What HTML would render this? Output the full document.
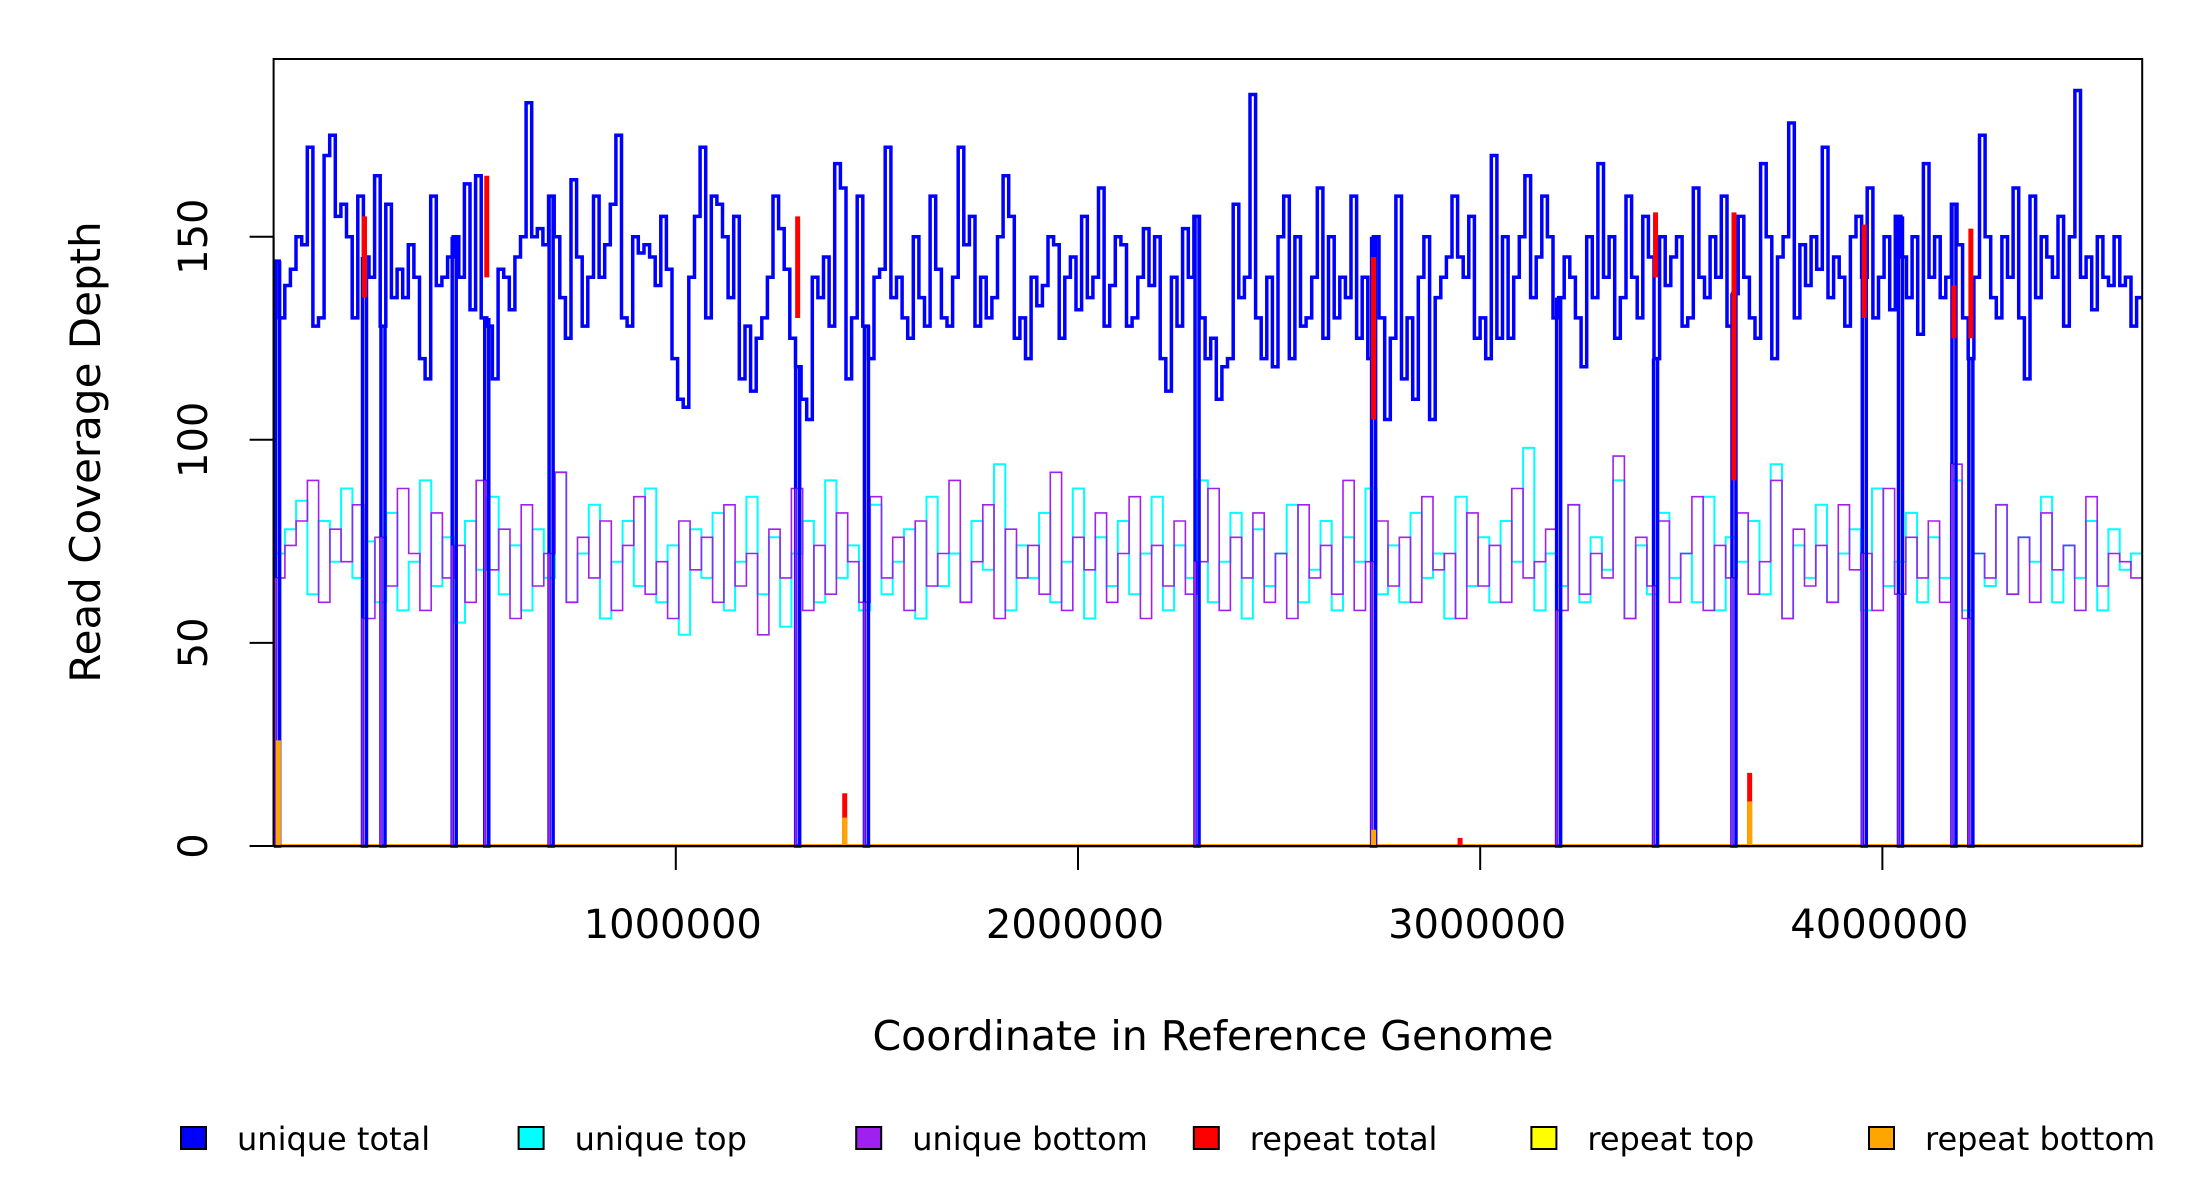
<!DOCTYPE html>
<html><head><meta charset="utf-8"><style>
html,body{margin:0;padding:0;background:#fff;}
svg{display:block;font-family:"DejaVu Sans","Liberation Sans",sans-serif;}
</style></head><body>
<svg id="chart" width="2200" height="1200" viewBox="0 0 2200 1200" xmlns="http://www.w3.org/2000/svg">
<g id="plot"></g>
<rect x="273.6" y="59" width="1868.6" height="787" fill="none" stroke="#000" stroke-width="2"/>
<g id="axes"></g>
<text x="0" y="0" transform="translate(100,452) rotate(-90)" text-anchor="middle" font-size="42">Read Coverage Depth</text>
<text x="1213" y="1050" text-anchor="middle" font-size="41">Coordinate in Reference Genome</text>
<g id="legend"></g>
</svg>
<script>
const xMax = 4646000;
const yMax = 193.75;
const xTicks = [1000000, 2000000, 3000000, 4000000];
const xTickLabels = ["1000000", "2000000", "3000000", "4000000"];
const yTicks = [0, 50, 100, 150];
const yTickLabels = ["0", "50", "100", "150"];
const uniqueTotal = [144,130,138,142,150,148,172,128,130,170,175,155,158,150,130,160,145,140,165,128,158,135,142,135,148,140,120,115,160,138,140,145,150,140,163,132,165,130,128,115,142,140,132,145,150,183,150,152,148,160,150,135,125,164,145,128,140,160,140,148,158,175,130,128,150,146,148,145,138,155,142,120,110,108,140,155,172,130,160,158,150,135,155,115,128,112,125,130,140,160,152,142,125,118,110,105,140,135,145,128,168,162,115,130,160,128,120,140,142,172,135,140,130,125,150,135,128,160,142,130,128,140,172,148,155,128,140,130,135,150,165,155,125,130,120,140,133,138,150,148,125,140,145,132,155,135,140,162,128,138,150,148,128,130,140,152,138,150,120,112,140,128,152,140,155,130,120,125,110,118,120,158,135,140,185,130,120,140,118,150,160,120,150,128,130,140,162,125,150,130,140,135,160,125,140,120,150,130,105,125,160,115,130,110,140,150,105,135,140,145,160,145,140,155,125,130,120,170,125,150,125,140,150,165,135,145,160,150,130,135,145,140,130,118,150,135,168,140,150,125,135,160,140,130,155,145,120,150,138,145,150,128,130,162,140,135,150,140,160,128,136,155,140,130,125,168,150,120,145,150,178,130,148,138,150,142,172,135,145,140,128,150,155,140,162,130,140,150,132,155,145,135,150,126,168,140,150,135,140,158,148,130,120,140,175,150,135,130,150,140,162,130,115,160,135,150,145,140,155,128,150,186,140,145,132,150,140,138,150,138,140,128,135];
const uniqueTop = [72,78,85,62,80,70,88,66,75,60,82,58,70,90,64,76,55,80,68,86,62,74,58,78,66,92,60,72,84,56,70,80,64,88,60,74,52,78,66,82,58,70,86,62,76,54,72,80,60,90,66,74,58,84,62,70,78,56,86,64,72,60,80,68,94,58,74,66,82,60,70,88,56,76,64,80,62,72,86,58,74,66,90,60,70,82,56,78,64,72,84,60,68,80,58,76,70,88,62,74,60,82,66,72,56,86,64,76,60,80,70,98,58,72,64,84,60,76,68,90,56,74,62,82,66,72,60,86,58,76,70,80,62,94,56,74,66,84,60,72,78,58,88,64,70,82,60,76,66,90,58,72,64,84,62,76,70,86,60,74,66,80,58,78,68,72];
const uniqueBottom = [66,74,80,90,60,78,70,84,56,76,64,88,72,58,82,66,74,60,90,68,78,56,84,64,72,92,60,76,66,80,58,74,86,62,70,56,80,68,76,60,84,64,72,52,78,66,88,58,74,62,82,70,60,86,66,76,58,80,64,72,90,60,70,84,56,78,66,74,62,92,58,76,68,82,60,72,86,56,74,64,80,62,70,88,58,76,66,82,60,72,56,84,66,74,62,90,58,70,80,64,76,60,86,68,72,56,82,64,74,60,88,66,70,78,58,84,62,72,66,96,56,76,64,80,60,72,86,58,74,66,82,62,70,90,56,78,64,74,60,84,68,72,58,88,62,76,66,80,60,94,56,72,66,84,62,76,60,82,68,74,58,86,64,72,70,66];
const dropPositions = [10000,226000,272000,449000,530000,690000,1303000,1474000,2296000,2735000,3195000,3436000,3631000,3955000,4045000,4178000,4220000];
const repeatPositions = [226000,530000,1303000,1420000,2735000,2950000,3436000,3631000,3670000,3955000,4178000,4220000];
const repeatLow = [135,140,130,0,105,0,140,90,0,130,125,125];
const repeatHigh = [155,165,155,13,145,2,156,156,18,153,138,152];
const repeatBottomPositions = [12000,1420000,3670000,2735000];
const repeatBottomValues = [26,7,11,4];
const legendLabels = ["unique total","unique top","unique bottom","repeat total","repeat top","repeat bottom"];
const legendColors = ["#0000ff","#00ffff","#a020f0","#ff0000","#ffff00","#ffa500"];

const X0 = 273.6, X1 = 2142.2, Y0 = 846, Y1 = 59;
const xs = v => X0 + (v / xMax) * (X1 - X0);
const ys = v => Y0 - (v / yMax) * (Y0 - Y1);
const NS = "http://www.w3.org/2000/svg";
const plot = document.getElementById('plot');
const axes = document.getElementById('axes');
const legend = document.getElementById('legend');
function mk(tag, attrs, parent){const e=document.createElementNS(NS,tag);for(const k in attrs)e.setAttribute(k,attrs[k]);parent.appendChild(e);return e;}

function stepPath(vals){
  const w = xMax / vals.length; let d = '';
  vals.forEach((v,i)=>{const a=xs(i*w), b=xs((i+1)*w), y=ys(v);
    d += (i===0?'M':'L')+a.toFixed(1)+','+y.toFixed(1)+'L'+b.toFixed(1)+','+y.toFixed(1);});
  return d;
}
function valAt(vals,pos){const i=Math.min(vals.length-1,Math.floor(pos/(xMax/vals.length)));return vals[i];}

let p = mk('line',{x1:X0,x2:X1,y1:ys(0),y2:ys(0),stroke:'#ffa500','stroke-width':4},plot);



p = mk('path',{d:stepPath(uniqueTop),fill:'none',stroke:'#00ffff','stroke-width':2},plot);


p = mk('path',{d:stepPath(uniqueBottom),fill:'none',stroke:'#a020f0','stroke-width':1.6},plot);


p = mk('path',{d:stepPath(uniqueTotal),fill:'none',stroke:'#0000ff','stroke-width':3.5},plot);



dropPositions.forEach(pos=>{
  const v = valAt(uniqueTotal,pos);
  let l = mk('path',{d:'M'+(xs(pos)-2)+','+ys(v)+'V'+ys(0)+'H'+(xs(pos)+2)+'V'+ys(v),fill:'none',stroke:'#0000ff','stroke-width':3.5},plot);
  
  
  let l2 = mk('line',{x1:xs(pos)-2,x2:xs(pos)-2,y1:ys(valAt(uniqueBottom,pos)),y2:ys(0),stroke:'#a020f0','stroke-width':2},plot);
  
  
});
repeatPositions.forEach((pos,i)=>{
  let l = mk('line',{x1:xs(pos),x2:xs(pos),y1:ys(repeatLow[i]),y2:ys(repeatHigh[i]),stroke:'#ff0000','stroke-width':5},plot);
  
  
});
repeatBottomPositions.forEach((pos,i)=>{
  let l = mk('line',{x1:xs(pos),x2:xs(pos),y1:ys(0),y2:ys(repeatBottomValues[i]),stroke:'#ffa500','stroke-width':5},plot);
  
  
});

xTicks.forEach((t,i)=>{
  let l = mk('line',{x1:xs(t),x2:xs(t),y1:Y0,y2:Y0+24,stroke:'#000','stroke-width':2},axes);
  
  
  let tx = mk('text',{x:xs(t)-3,y:938,'text-anchor':'middle','font-size':40},axes);
  tx.textContent = xTickLabels[i];
  
  
});
yTicks.forEach((t,i)=>{
  let l = mk('line',{x1:X0,x2:X0-24,y1:ys(t),y2:ys(t),stroke:'#000','stroke-width':2},axes);
  
  
  let tx = mk('text',{x:0,y:0,transform:'translate(207,'+ys(t)+') rotate(-90)','text-anchor':'middle','font-size':40},axes);
  tx.textContent = yTickLabels[i];
  
  
});
let ya = mk('line',{x1:X0,x2:X0,y1:ys(0),y2:ys(150),stroke:'#000','stroke-width':2},axes);


let xa = mk('line',{x1:xs(1000000),x2:xs(4000000),y1:Y0,y2:Y0,stroke:'#000','stroke-width':2},axes);



legendLabels.forEach((lab,i)=>{
  const lx = 181 + i*337.6;
  const g = mk('g',{},legend);
  
  
  let r = mk('rect',{x:lx,y:1127,width:25,height:22,fill:legendColors[i],stroke:'#000','stroke-width':2},g);
  
  
  let t = mk('text',{x:lx+56,y:1150,'font-size':32},g);
  t.textContent = lab;
  
  
});
</script>
</body></html>
